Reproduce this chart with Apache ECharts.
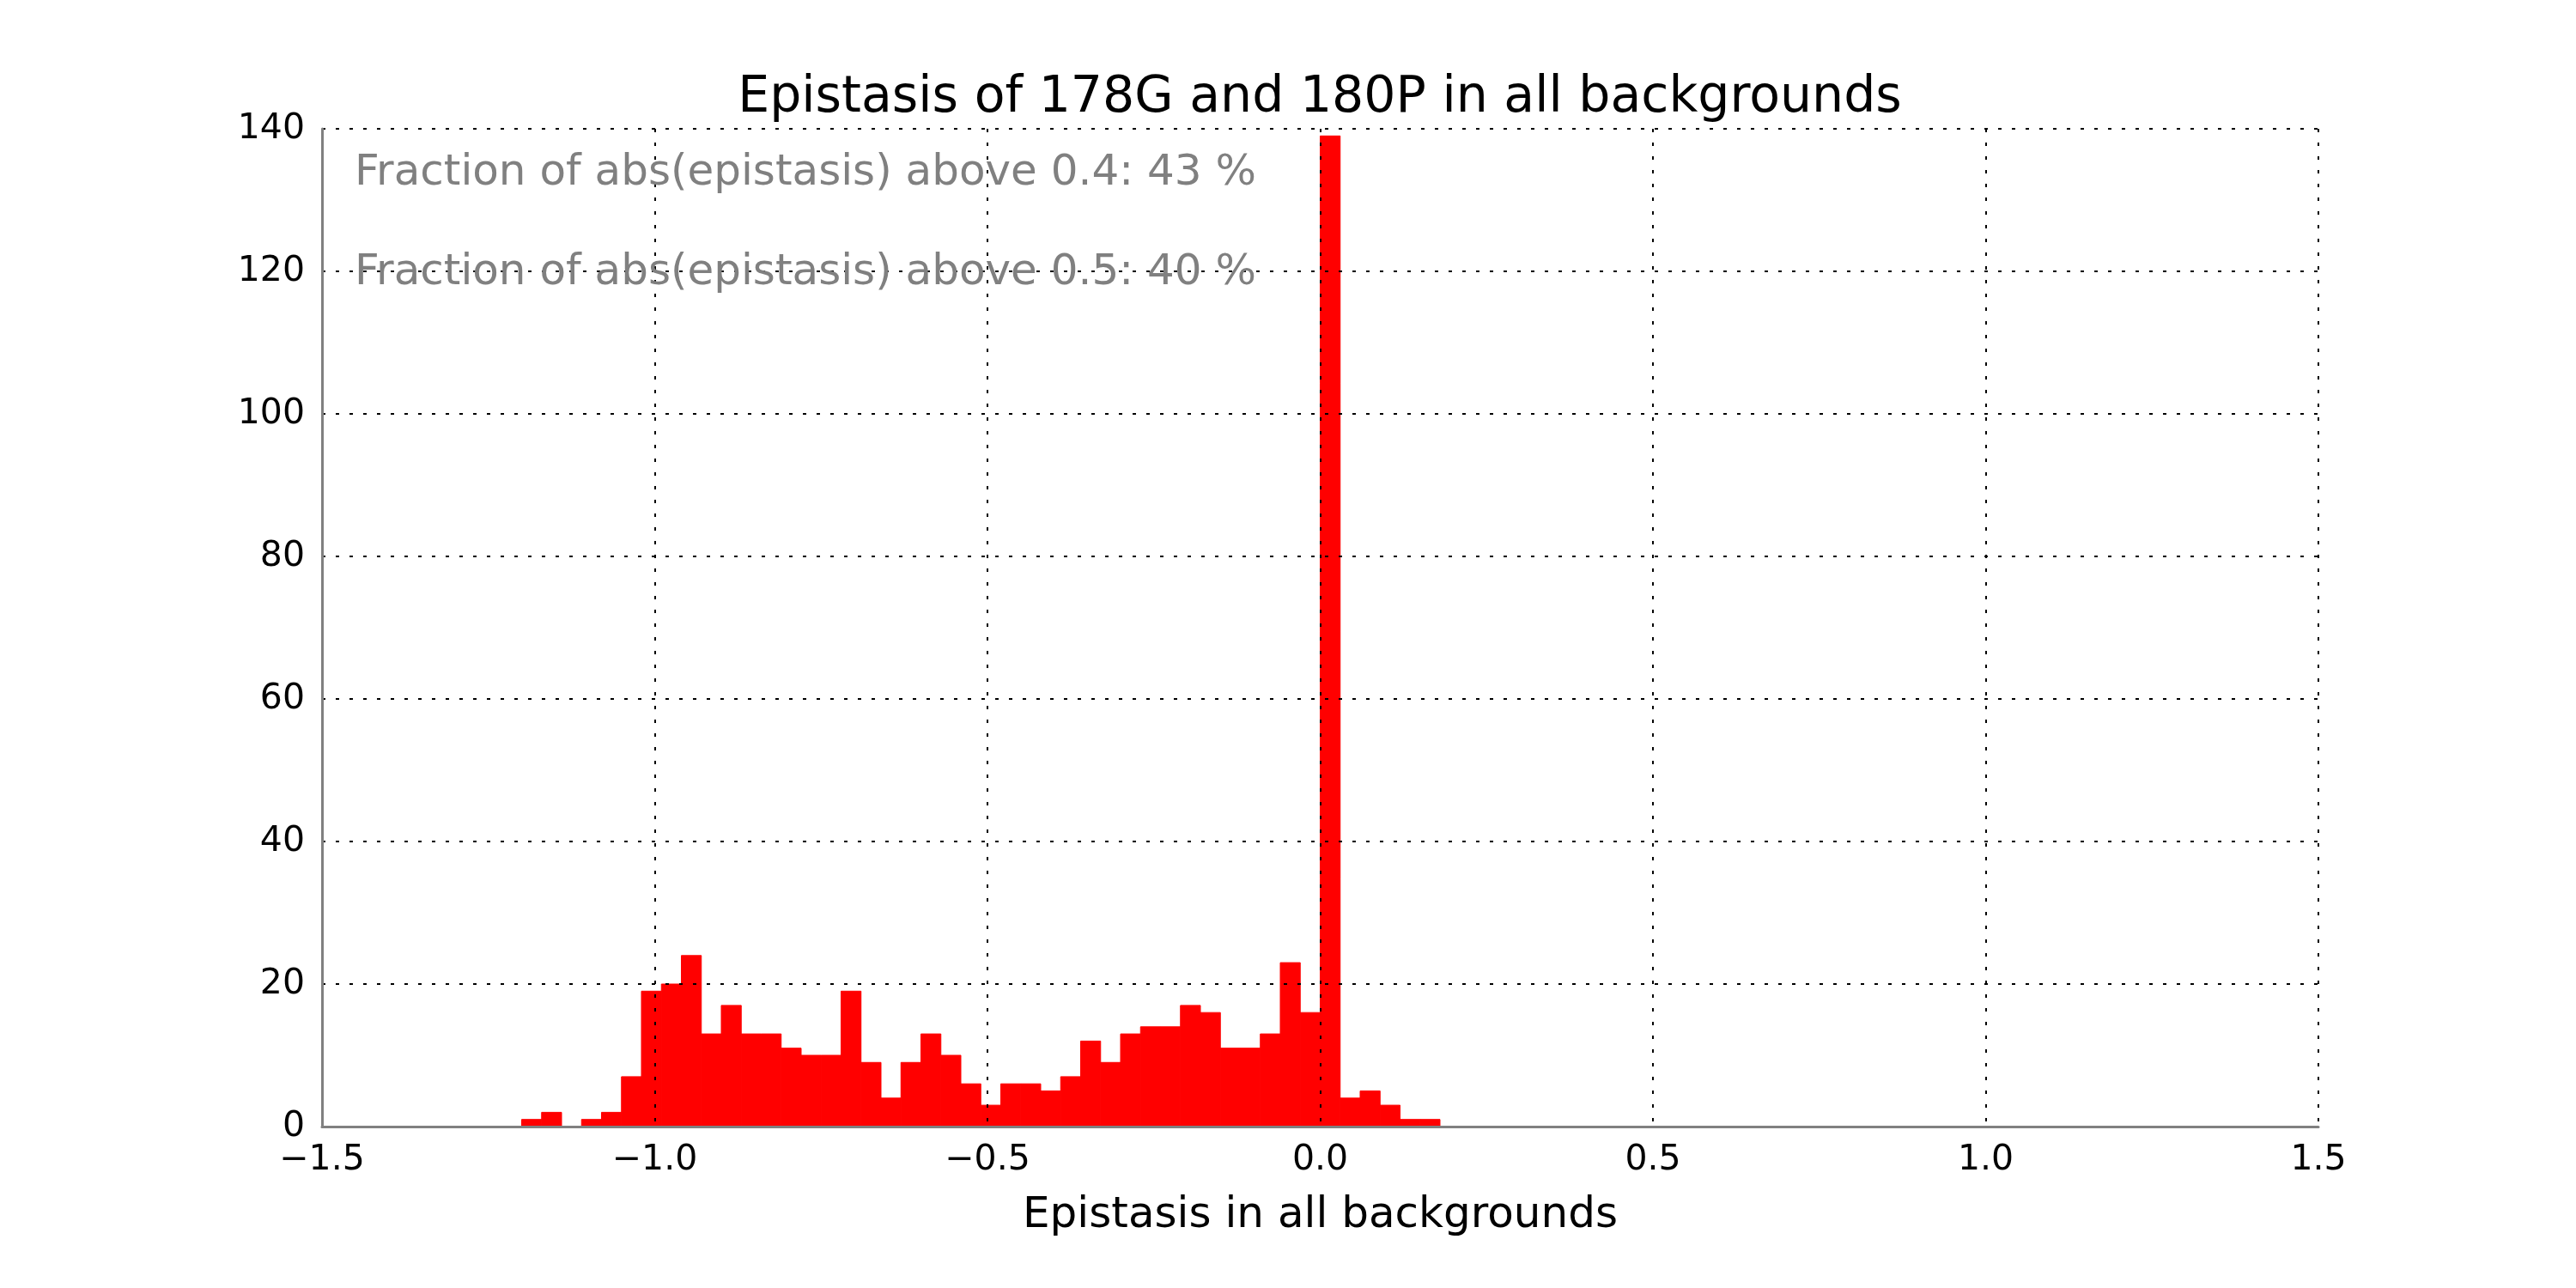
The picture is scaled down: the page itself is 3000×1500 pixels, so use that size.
<!DOCTYPE html>
<html>
<head>
<meta charset="utf-8">
<script src="https://cdn.jsdelivr.net/npm/echarts@6/dist/echarts.min.js"></script>
<style>
  html, body { margin: 0; padding: 0; background: #ffffff; }
  #chart { width: 3000px; height: 1500px; }
</style>
</head>
<body>
<div id="chart"></div>
<script>
// ---- data ----
const binEdges = [-1.20, -1.17, -1.14, -1.11, -1.08, -1.05, -1.02, -0.99, -0.96, -0.93,
                  -0.90, -0.87, -0.84, -0.81, -0.78, -0.75, -0.72, -0.69, -0.66, -0.63,
                  -0.60, -0.57, -0.54, -0.51, -0.48, -0.45, -0.42, -0.39, -0.36, -0.33,
                  -0.30, -0.27, -0.24, -0.21, -0.18, -0.15, -0.12, -0.09, -0.06, -0.03,
                   0.00,  0.03,  0.06,  0.09,  0.12,  0.15,  0.18];
const counts = [1, 2, 0, 1, 2, 7, 19, 20, 24, 13,
                17, 13, 13, 11, 10, 10, 19, 9, 4, 9,
                13, 10, 6, 3, 6, 6, 5, 7, 12, 9,
                13, 14, 14, 17, 16, 11, 11, 13, 23, 16,
                139, 4, 5, 3, 1, 1];
const annotationTexts = ['Fraction of abs(epistasis) above 0.4: 43 %',
                         'Fraction of abs(epistasis) above 0.5: 40 %'];
const annotationX = [-1.451, -1.451];
const annotationY = [133.7, 119.7];
const titleText = 'Epistasis of 178G and 180P in all backgrounds';
const xAxisName = 'Epistasis in all backgrounds';

// ---- chart ----
const FONT = 'DejaVu Sans';
const chart = echarts.init(document.getElementById('chart'), null, { renderer: 'canvas' });

const histData = counts.map((c, i) => [binEdges[i], binEdges[i + 1], c]);
const annData = annotationTexts.map((t, i) => [annotationX[i], annotationY[i], t]);

const fmtX = v => v.toFixed(1).replace('-', '\u2212');

const option = {
  backgroundColor: '#ffffff',
  animation: false,
  graphic: [{
    type: 'text',
    x: 1537,
    y: 85,
    style: {
      text: titleText,
      font: '58.5px "' + FONT + '"',
      fill: '#000000',
      align: 'center',
      verticalAlign: 'top'
    }
  }],
  grid: { left: 375, right: 300, top: 150, bottom: 188, containLabel: false },
  xAxis: {
    type: 'value',
    min: -1.5, max: 1.5, interval: 0.5,
    z: 5,
    name: xAxisName,
    nameLocation: 'middle',
    nameGap: 79,
    nameTextStyle: { fontFamily: FONT, fontSize: 50, color: '#000000' },
    axisLine: { show: true, onZero: false, lineStyle: { color: '#808080', width: 3 } },
    axisTick: { show: false },
    axisLabel: { fontFamily: FONT, fontSize: 41, color: '#000000', margin: 19, formatter: fmtX },
    splitLine: { show: true, lineStyle: { color: '#000000', width: 2, type: [4, 12] } }
  },
  yAxis: {
    type: 'value',
    min: 0, max: 140, interval: 20,
    z: 5,
    axisLine: { show: true, onZero: false, lineStyle: { color: '#808080', width: 3 } },
    axisTick: { show: false },
    axisLabel: { fontFamily: FONT, fontSize: 41, color: '#000000', margin: 20 },
    splitLine: { show: true, lineStyle: { color: '#000000', width: 2, type: [4, 12] } }
  },
  series: [
    {
      type: 'custom',
      z: 1,
      data: histData,
      encode: { x: [0, 1], y: 2 },
      renderItem: function (params, api) {
        const p0 = api.coord([api.value(0), api.value(2)]);
        const p1 = api.coord([api.value(1), 0]);
        return {
          type: 'rect',
          shape: { x: p0[0], y: p0[1], width: p1[0] - p0[0], height: p1[1] - p0[1] },
          style: { fill: '#ff0000', stroke: '#ff0000', lineWidth: 1 }
        };
      }
    },
    {
      type: 'custom',
      z: 10,
      data: annData,
      encode: { x: 0, y: 1 },
      renderItem: function (params, api) {
        const p = api.coord([api.value(0), api.value(1)]);
        return {
          type: 'text',
          z2: 100,
          style: {
            x: p[0], y: p[1],
            text: annData[params.dataIndex][2],
            font: '50px "' + FONT + '"',
            fill: '#808080',
            align: 'left',
            verticalAlign: 'middle'
          }
        };
      }
    }
  ]
};
chart.setOption(option);
</script>
</body>
</html>
